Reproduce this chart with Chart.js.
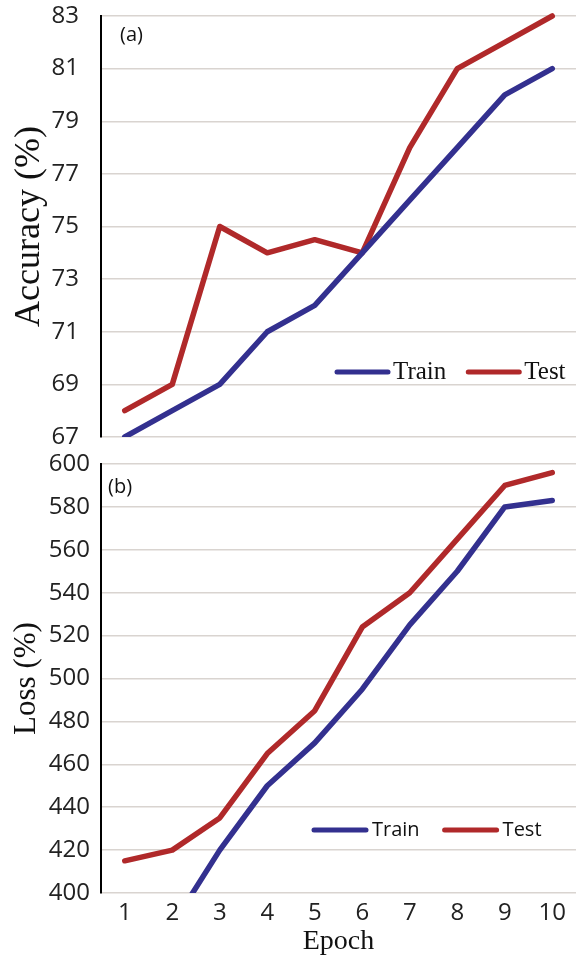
<!DOCTYPE html>
<html>
<head>
<meta charset="utf-8">
<script src="https://cdn.jsdelivr.net/npm/chart.js@4.4.0/dist/chart.umd.min.js"></script>
<style>
  html, body { margin: 0; padding: 0; background: #fff; }
  #wrap { position: relative; width: 576px; height: 960px; }
  canvas { position: absolute; left: 0; }
</style>
</head>
<body>
<div id="wrap">
  <canvas id="acc_graph" width="576" height="452" style="top:0px"></canvas>
  <canvas id="loss_graph" width="576" height="510" style="top:450px"></canvas>
</div>
<script>
let epochs = ['1', '2', '3', '4', '5', '6', '7', '8', '9', '10'];
let trainAcc = [67, 68, 69, 71, 72, 74, 76, 78, 80, 81];
let testAcc = [68, 69, 75, 74, 74.5, 74, 78, 81, 82, 83];
let trainLoss = [355, 385, 420, 450, 470, 495, 525, 550, 580, 583];
let testLoss = [415, 420, 435, 465, 485, 524, 540, 565, 590, 596];
let accTicks = [67, 69, 71, 73, 75, 77, 79, 81, 83];
let lossTicks = [400, 420, 440, 460, 480, 500, 520, 540, 560, 580, 600];

const BLUE = '#33308f';
const RED = '#b0292a';
const TICK_FONT = { family: 'Open Sans', size: 24 };
const SERIF = 'Liberation Serif';

// legend drawn as line segments inside the plot, plus the (a)/(b) tag
const lineLegend = {
    id: 'lineLegend',
    afterDraw(chart, args, opts) {
        let ctx = chart.ctx;
        let x = opts.x;
        ctx.save();
        ctx.font = opts.font;
        ctx.textBaseline = 'middle';
        chart.data.datasets.forEach(ds => {
            ctx.strokeStyle = ds.borderColor;
            ctx.lineWidth = 5;
            ctx.lineCap = 'round';
            ctx.beginPath();
            ctx.moveTo(x, opts.y);
            ctx.lineTo(x + opts.len, opts.y);
            ctx.stroke();
            x += opts.len + opts.gap;
            ctx.fillStyle = '#111';
            ctx.fillText(ds.label, x, opts.y);
            x += ctx.measureText(ds.label).width + opts.spacing;
        });
        ctx.font = '20px "Open Sans"';
        ctx.fillStyle = '#111';
        ctx.fillText(opts.tag, opts.tagX, opts.tagY);
        ctx.restore();
    }
};

function dataset(label, data, color) {
    return {
        label: label,
        data: data,
        borderColor: color,
        backgroundColor: color,
        borderWidth: 5.5,
        borderCapStyle: 'round',
        borderJoinStyle: 'round',
        pointRadius: 0,
        tension: 0,
        clip: { left: 4, top: 4, right: 4, bottom: 0 }
    };
}

function yScale(ticks, title, titleSize, tickPad) {
    return {
        min: ticks[0],
        max: ticks[ticks.length - 1],
        afterBuildTicks: s => { s.ticks = ticks.map(v => ({ value: v })); },
        afterFit: s => { s.width = 101; s.paddingTop = 0; s.paddingBottom = 0; },
        border: { display: true, color: '#000', width: 2 },
        grid: { color: '#d9d4d0', lineWidth: 1.5, drawTicks: false },
        ticks: { font: TICK_FONT, color: '#222', padding: tickPad },
        title: { display: true, text: title, font: { family: SERIF, size: titleSize }, color: '#111', padding: { top: 8 } }
    };
}

let acc_graph = document.getElementById('acc_graph').getContext('2d');
window.acc_chart = new Chart(acc_graph, {
    type: 'line',
    data: {
        labels: epochs,
        datasets: [dataset('Train', trainAcc, BLUE), dataset('Test', testAcc, RED)]
    },
    options: {
        responsive: false,
        animation: false,
        layout: { padding: { top: 16, right: 0, bottom: 15, left: 0 } },
        scales: {
            x: { display: false, offset: true },
            y: yScale(accTicks, 'Accuracy (%)', 36, 22)
        },
        plugins: {
            legend: { display: false },
            tooltip: { enabled: false },
            lineLegend: { x: 337, y: 372, len: 51, gap: 5, spacing: 22, font: '25px "' + SERIF + '"', tag: '(a)', tagX: 120, tagY: 35 }
        }
    },
    plugins: [lineLegend]
});

let loss_graph = document.getElementById('loss_graph').getContext('2d');
window.loss_chart = new Chart(loss_graph, {
    type: 'line',
    data: {
        labels: epochs,
        datasets: [dataset('Train', trainLoss, BLUE), dataset('Test', testLoss, RED)]
    },
    options: {
        responsive: false,
        animation: false,
        layout: { padding: { top: 14, right: 0, bottom: 0, left: 0 } },
        scales: {
            x: {
                offset: true,
                afterFit: s => { s.height = 67; },
                border: { display: false },
                grid: { display: false, drawTicks: false },
                ticks: { font: TICK_FONT, color: '#222', padding: 6, maxRotation: 0 },
                title: { display: true, text: 'Epoch', font: { family: SERIF, size: 28 }, color: '#111', padding: { bottom: 2 } }
            },
            y: yScale(lossTicks, 'Loss (%)', 31, 11)
        },
        plugins: {
            legend: { display: false },
            tooltip: { enabled: false },
            lineLegend: { x: 314, y: 380, len: 52, gap: 6, spacing: 25, font: '20px "Open Sans"', tag: '(b)', tagX: 108, tagY: 37 }
        }
    },
    plugins: [lineLegend]
});
</script>
</body>
</html>
